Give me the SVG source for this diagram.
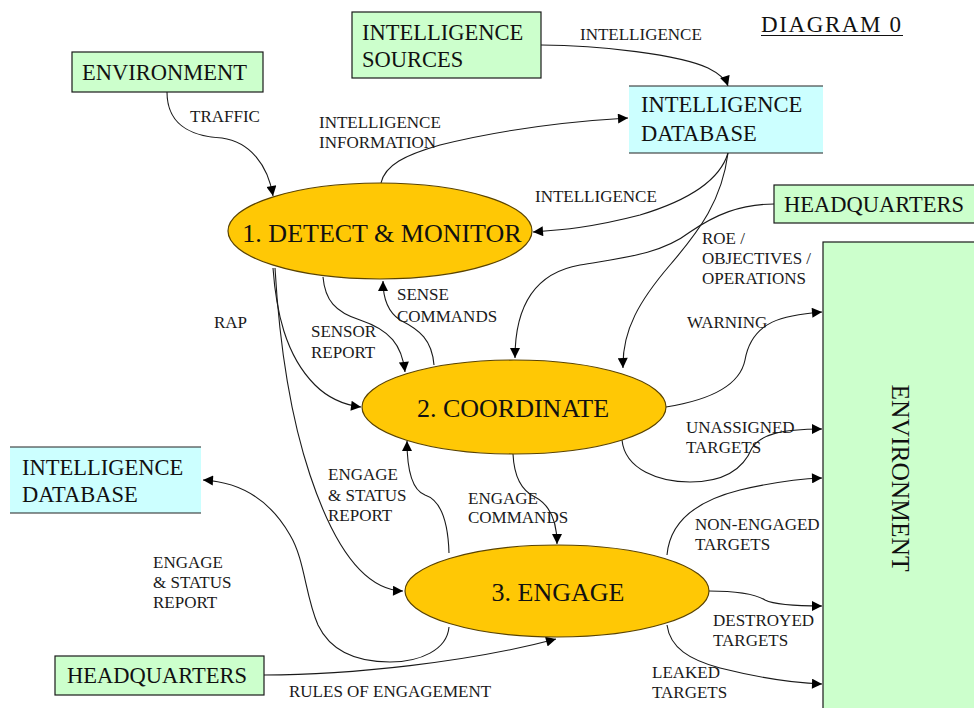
<svg xmlns="http://www.w3.org/2000/svg" width="974" height="708" viewBox="0 0 974 708" font-family="Liberation Serif, DejaVu Serif, serif">
<style>
.bg{fill:#ffffff}
.ext{fill:#ccffcc;stroke:#1a1a1a;stroke-width:1.2}
.store{fill:#ccffff}
.edge{stroke:#222;stroke-width:1.2}
.proc{fill:#ffc805;stroke:#5a4300;stroke-width:1.2}
text{font-family:'Liberation Serif','DejaVu Serif',serif}
.big{font-size:22.5px;fill:#111}
.ptxt{font-size:26px;fill:#111}
.lbl{font-size:17px;fill:#1a1a1a}
.con{fill:none;stroke:#1a1a1a;stroke-width:1.1}
</style>
<defs>
<marker id="ah" viewBox="0 0 10 10" refX="10" refY="5" markerWidth="11" markerHeight="10" markerUnits="userSpaceOnUse" orient="auto">
<path d="M0,0 L10,5 L0,10 z" fill="#000"/>
</marker>
</defs>
<rect class="bg" x="0" y="0" width="974" height="708"/>

<g id="title">
<text class="big" x="761" y="32" style="font-size:23px;letter-spacing:1.6px">DIAGRAM 0</text>
<line x1="761" y1="35.5" x2="903" y2="35.5" stroke="#111" stroke-width="1.2"/>
</g>

<g id="connectors">
<path class="con" marker-end="url(#ah)" d="M167,92 C167,130 200,137 222,138 C250,142 268,165 273,196"/>
<path class="con" marker-end="url(#ah)" d="M381,183 C385,165 405,155 440,145 C500,130 560,122 628,118"/>
<path class="con" marker-end="url(#ah)" d="M541,45 C600,45 680,55 708,68 C720,74 726,80 728,86"/>
<path class="con" marker-end="url(#ah)" d="M728,153 C720,180 690,200 640,215 C590,228 560,230 533,232"/>
<path class="con" marker-end="url(#ah)" d="M728,153 C722,200 700,230 670,265 C640,300 622,330 623,368"/>
<path class="con" marker-end="url(#ah)" d="M774,204 C740,204 715,215 690,232 C660,255 620,258 580,265 C540,272 515,300 515,358"/>
<path class="con" marker-end="url(#ah)" d="M666,407 C710,400 740,385 745,360 C752,320 785,315 822,312"/>
<path class="con" marker-end="url(#ah)" d="M622,440 C625,470 660,482 690,482 C730,482 745,465 752,448 C760,435 780,429 822,429"/>
<path class="con" marker-end="url(#ah)" d="M323,277 C325,300 335,312 360,320 C390,330 402,345 405,372"/>
<path class="con" marker-end="url(#ah)" d="M434,365 C432,340 420,330 400,320 C388,312 383,300 383,281"/>
<path class="con" marker-end="url(#ah)" d="M273,268 C276,310 285,355 315,385 C330,400 345,405 361,407"/>
<path class="con" marker-end="url(#ah)" d="M275,268 C278,320 285,400 310,475 C330,535 360,590 403,591"/>
<path class="con" marker-end="url(#ah)" d="M449,553 C448,520 440,500 425,495 C412,490 407,470 407,441"/>
<path class="con" marker-end="url(#ah)" d="M513,454 C514,475 520,490 535,497 C550,505 557,520 557,544"/>
<path class="con" marker-end="url(#ah)" d="M449,627 C447,650 420,662 390,662 C355,662 330,650 318,625 C305,595 305,560 290,535 C270,500 240,482 203,480"/>
<path class="con" marker-end="url(#ah)" d="M264,675 C350,675 470,662 556,639"/>
<path class="con" marker-end="url(#ah)" d="M667,555 C670,520 700,500 740,490 C770,483 795,479 822,478"/>
<path class="con" marker-end="url(#ah)" d="M709,591 C740,591 755,594 765,600 C775,605 795,606 822,606"/>
<path class="con" marker-end="url(#ah)" d="M667,625 C670,648 690,660 720,668 C760,678 790,683 822,684"/>
</g>

<g id="labels">
<text class="lbl" x="190" y="122">TRAFFIC</text>
<text class="lbl" x="319" y="128">INTELLIGENCE</text>
<text class="lbl" x="319" y="148">INFORMATION</text>
<text class="lbl" x="580" y="40">INTELLIGENCE</text>
<text class="lbl" x="535" y="202">INTELLIGENCE</text>
<text class="lbl" x="702" y="244">ROE /</text>
<text class="lbl" x="702" y="264">OBJECTIVES /</text>
<text class="lbl" x="702" y="284">OPERATIONS</text>
<text class="lbl" x="687" y="328">WARNING</text>
<text class="lbl" x="686" y="433">UNASSIGNED</text>
<text class="lbl" x="686" y="453">TARGETS</text>
<text class="lbl" x="214" y="328">RAP</text>
<text class="lbl" x="311" y="337">SENSOR</text>
<text class="lbl" x="311" y="358">REPORT</text>
<text class="lbl" x="397" y="300">SENSE</text>
<text class="lbl" x="397" y="322">COMMANDS</text>
<text class="lbl" x="328" y="480">ENGAGE</text>
<text class="lbl" x="328" y="501">&amp; STATUS</text>
<text class="lbl" x="328" y="521">REPORT</text>
<text class="lbl" x="468" y="504">ENGAGE</text>
<text class="lbl" x="468" y="523">COMMANDS</text>
<text class="lbl" x="153" y="568">ENGAGE</text>
<text class="lbl" x="153" y="588">&amp; STATUS</text>
<text class="lbl" x="153" y="608">REPORT</text>
<text class="lbl" x="289" y="697">RULES OF ENGAGEMENT</text>
<text class="lbl" x="695" y="530">NON-ENGAGED</text>
<text class="lbl" x="695" y="550">TARGETS</text>
<text class="lbl" x="713" y="626">DESTROYED</text>
<text class="lbl" x="713" y="646">TARGETS</text>
<text class="lbl" x="652" y="678">LEAKED</text>
<text class="lbl" x="652" y="698">TARGETS</text>
</g>

<g id="env-top">
<rect class="ext" x="72" y="52" width="191" height="40"/>
<text class="big" x="82" y="80">ENVIRONMENT</text>
</g>

<g id="intel-sources">
<rect class="ext" x="352" y="12" width="189" height="66"/>
<text class="big" x="362" y="40">INTELLIGENCE</text>
<text class="big" x="362" y="67">SOURCES</text>
</g>

<g id="intel-db-top">
<rect class="store" x="629" y="86" width="194" height="67"/>
<line class="edge" x1="629" y1="86" x2="823" y2="86"/>
<line class="edge" x1="629" y1="153" x2="823" y2="153"/>
<text class="big" x="641" y="112">INTELLIGENCE</text>
<text class="big" x="641" y="141">DATABASE</text>
</g>

<g id="hq-top">
<rect class="ext" x="774" y="185" width="210" height="38"/>
<text class="big" x="784" y="212">HEADQUARTERS</text>
</g>

<g id="env-right">
<rect class="ext" x="823" y="242" width="160" height="480"/>
<text class="big" transform="translate(892,478) rotate(90)" text-anchor="middle" style="font-size:25.5px">ENVIRONMENT</text>
</g>

<g id="intel-db-left">
<rect class="store" x="10" y="447" width="191" height="66"/>
<line class="edge" x1="10" y1="447" x2="201" y2="447"/>
<line class="edge" x1="10" y1="513" x2="201" y2="513"/>
<text class="big" x="22" y="475">INTELLIGENCE</text>
<text class="big" x="22" y="502">DATABASE</text>
</g>

<g id="hq-bottom">
<rect class="ext" x="55" y="656" width="209" height="39"/>
<text class="big" x="67" y="683">HEADQUARTERS</text>
</g>

<g id="p1">
<ellipse class="proc" cx="380" cy="231" rx="152" ry="48"/>
<text class="ptxt" x="382" y="242" text-anchor="middle">1. DETECT &amp; MONITOR</text>
</g>

<g id="p2">
<ellipse class="proc" cx="514" cy="407" rx="152" ry="47"/>
<text class="ptxt" x="513" y="417" text-anchor="middle">2. COORDINATE</text>
</g>

<g id="p3">
<ellipse class="proc" cx="557" cy="591" rx="152" ry="46"/>
<text class="ptxt" x="558" y="601" text-anchor="middle">3. ENGAGE</text>
</g>
</svg>
